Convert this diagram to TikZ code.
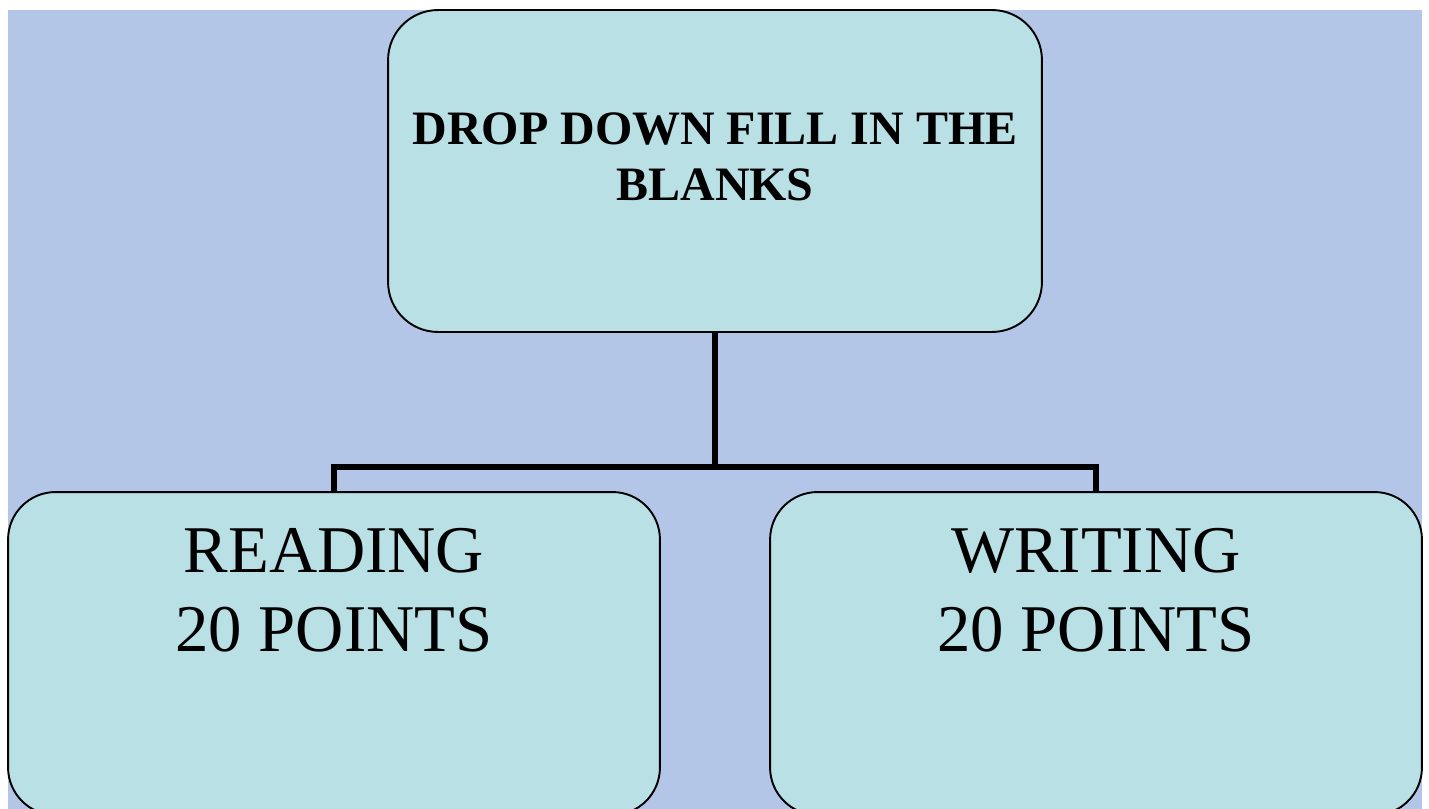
\documentclass[tikz,border=0pt]{standalone}
\usepackage{fontspec}
\setmainfont{Liberation Serif}
\usepackage{tikz}
\usetikzlibrary{positioning}
\definecolor{bgblue}{HTML}{B4C6E7}
\definecolor{boxaqua}{HTML}{B9E0E4}
\tikzstyle{box} = [draw, fill=boxaqua, rounded corners=0.95cm, line width=1.1pt, inner sep=0pt]
\tikzstyle{title} = [align=center, font=\fontsize{27.3}{31.9}\selectfont\bfseries]
\tikzstyle{score} = [align=center, font=\fontsize{38}{45}\selectfont]
\tikzstyle{line} = [draw, line width=3.2pt]

\begin{document}
\begin{tikzpicture}[x=0.02cm, y=-0.02cm]
			\useasboundingbox (0,0) rectangle (1429,808);
			\clip (0,0) rectangle (1429,808);
			\fill [bgblue] (8,10) rectangle (1422,815);
			
			\node [box, minimum width=13.08cm, minimum height=6.44cm, rounded corners=1cm] (top) at (715,171) {};
			\node [box, minimum width=13.04cm, minimum height=6.46cm] (reading) at (334,653.5) {};
			\node [box, minimum width=13.04cm, minimum height=6.46cm] (writing) at (1096,653.5) {};
			
			\node [title] (toptext) at (715,157) {DROP DOWN FILL IN THE\\BLANKS};
			\node [score] (readtext) at (334,590) {READING\\20 POINTS};
			\node [score] (writetext) at (1096,590) {WRITING\\20 POINTS};
			
			\coordinate (fork) at (715,467);
			\path [line] (top) -- (fork);
			\path [line] (fork) -| (reading.north);
			\path [line] (fork) -| (writing.north);
		\end{tikzpicture}
\end{document}
